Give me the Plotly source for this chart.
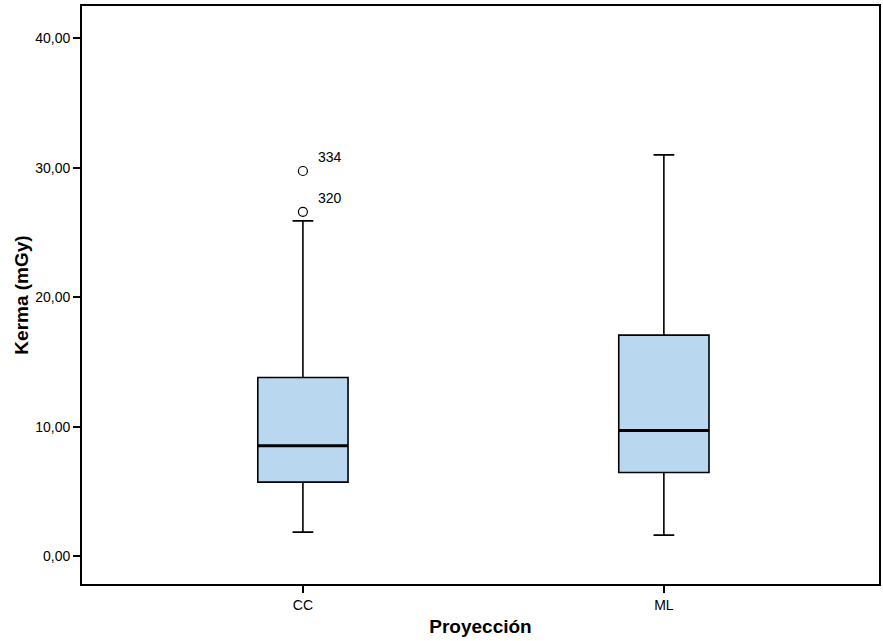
import plotly.graph_objects as go

# Kerma (mGy) summary statistics by projection
proyecciones = ["CC", "ML"]
q1 = [5.71, 6.46]
mediana = [8.52, 9.70]
q3 = [13.80, 17.07]
bigote_inf = [1.85, 1.62]
bigote_sup = [25.90, 31.00]

# Outlying cases (CC only) with their case numbers
atipicos_grupo = ["CC", "CC"]
atipicos_valor = [29.75, 26.60]
atipicos_caso = ["334", "320"]

posiciones = list(range(len(proyecciones)))
pos_de = dict(zip(proyecciones, posiciones))
ancho_caja = 0.25

fig = go.Figure()

fig.add_trace(go.Box(
    x=posiciones,
    q1=q1,
    median=mediana,
    q3=q3,
    lowerfence=bigote_inf,
    upperfence=bigote_sup,
    width=ancho_caja,
    whiskerwidth=0.23,
    fillcolor="#b9d8f0",
    line=dict(color="black", width=1.6),
    boxpoints=False,
    hoverinfo="skip",
    showlegend=False,
))

# Heavier median bars
for p, m in zip(posiciones, mediana):
    fig.add_shape(type="line", xref="x", yref="y",
                  x0=p - ancho_caja / 2, x1=p + ancho_caja / 2, y0=m, y1=m,
                  line=dict(color="black", width=3))

# Outliers as open circles, labelled with case number
fig.add_trace(go.Scatter(
    x=[pos_de[g] for g in atipicos_grupo],
    y=atipicos_valor,
    mode="markers",
    marker=dict(symbol="circle-open", size=9, color="black", line=dict(width=1.2)),
    hoverinfo="skip",
    showlegend=False,
))
for g, v, c in zip(atipicos_grupo, atipicos_valor, atipicos_caso):
    fig.add_annotation(x=pos_de[g], y=v, text=c, showarrow=False,
                       xanchor="left", yanchor="bottom", xshift=13, yshift=4,
                       font=dict(size=14, color="black"))

fig.update_layout(
    width=883, height=641,
    margin=dict(l=82, r=4, t=6, b=57),
    paper_bgcolor="white", plot_bgcolor="white",
    separators=",.",
    font=dict(family="Liberation Sans, Arial, sans-serif", color="black", size=14),
)

fig.update_xaxes(
    automargin=False,
    range=[-0.612, 1.596],
    tickmode="array", tickvals=posiciones, ticktext=proyecciones,
    ticks="outside", ticklen=7, tickwidth=1.5, tickcolor="black",
    showgrid=False, zeroline=False,
    showline=True, linecolor="black", linewidth=1.8, mirror=True,
    title=dict(text="<b>Proyección</b>", font=dict(size=19), standoff=8),
)
fig.update_yaxes(
    automargin=False,
    range=[-2.16, 42.5],
    tickmode="array", tickvals=[0, 10, 20, 30, 40], tickformat=".2f",
    ticks="outside", ticklen=7, tickwidth=1.5, tickcolor="black",
    showgrid=False, zeroline=False,
    showline=True, linecolor="black", linewidth=1.8, mirror=True,
    title=dict(text="<b>Kerma (mGy)</b>", font=dict(size=19), standoff=2),
)

fig.write_html("out.html")
